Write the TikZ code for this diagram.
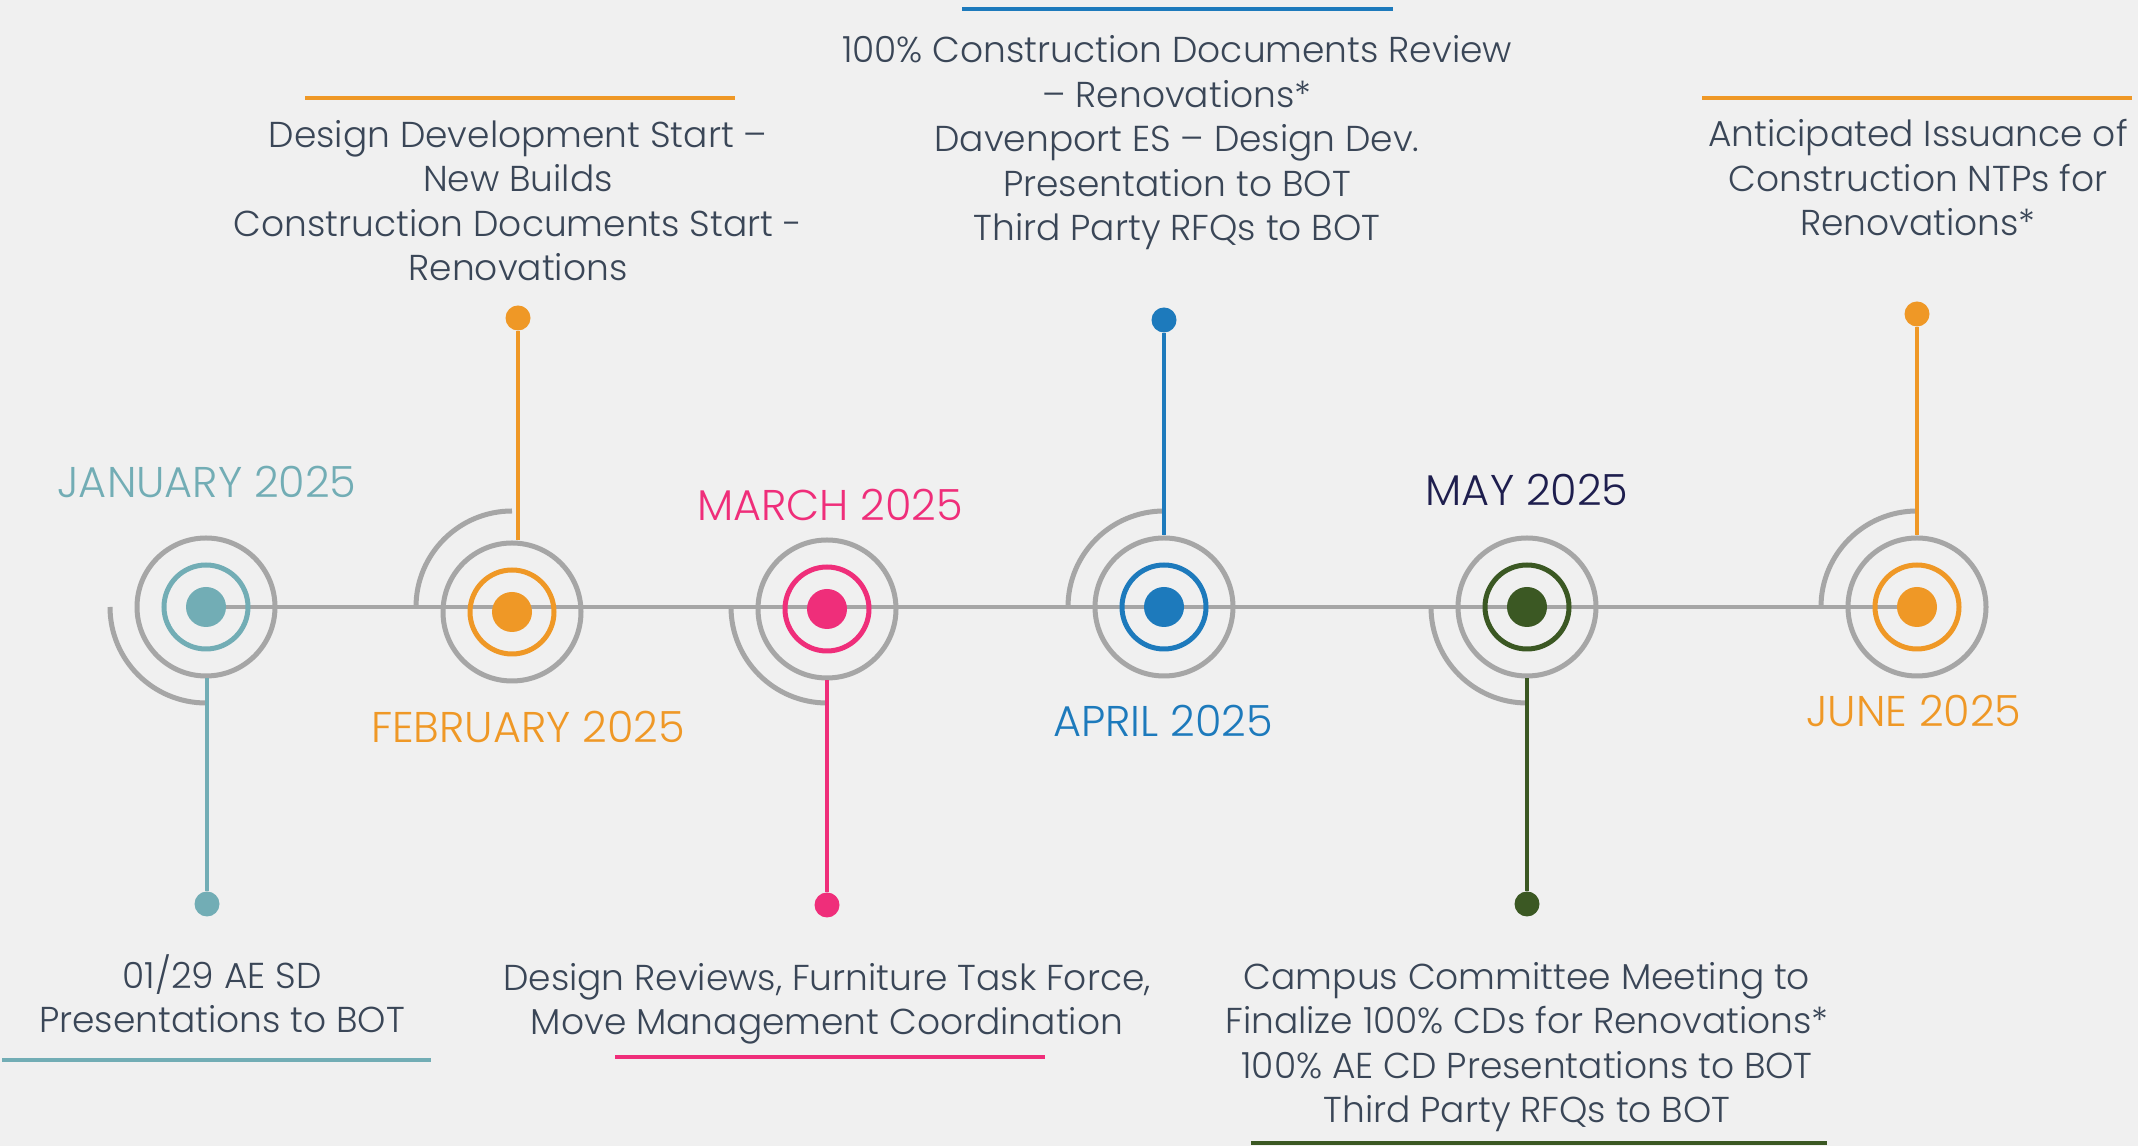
\documentclass[tikz,border=0pt]{standalone}
\usepackage{fontspec}
\IfFontExistsTF{Poppins Light}{\setmainfont{Poppins Light}}{\setmainfont{Poppins}}
\usetikzlibrary{positioning}

\definecolor{bggray}{HTML}{F0F0F0}
\definecolor{ringgray}{HTML}{A6A6A6}
\definecolor{textslate}{HTML}{3A4657}
\definecolor{janteal}{HTML}{72ADB5}
\definecolor{feborange}{HTML}{EF9826}
\definecolor{marpink}{HTML}{EF2E7A}
\definecolor{aprblue}{HTML}{1D7ABC}
\definecolor{maygreen}{HTML}{3B5823}
\definecolor{maynavy}{HTML}{1E1E4E}

\begin{document}
\begin{tikzpicture}[x=0.5pt, y=0.5pt,
    ring/.style = {draw=ringgray, line width=2.5pt, circle, minimum size=69pt, inner sep=0pt},
    mid/.style = {draw, line width=2.5pt, circle, minimum size=42pt, inner sep=0pt},
    core/.style = {fill, circle, minimum size=20pt, inner sep=0pt},
    pin/.style = {fill, circle, minimum size=12.5pt, inner sep=0pt},
    swirl/.style = {draw=ringgray, line width=2.5pt},
    stem/.style = {line width=1.8pt},
    bar/.style = {line width=2pt},
    month/.style = {font=\fontsize{21.5}{24}\selectfont, anchor=base, inner sep=0pt},
    note/.style = {font=\fontsize{18}{22.3}\selectfont, text=textslate, align=center, anchor=base, inner sep=0pt}]

    \path[use as bounding box, fill=bggray] (0,0) rectangle (2138,1146);

    % milestone centres
    \coordinate (jan) at (206,539);
    \coordinate (feb) at (512,534);
    \coordinate (mar) at (827,537);
    \coordinate (apr) at (1164,539);
    \coordinate (may) at (1527,539);
    \coordinate (jun) at (1917,539);

    % timeline
    \draw[ringgray, line width=2pt] (jan) -- (jun);

    % swirls
    \draw[swirl] ([xshift=-48pt]jan) arc[start angle=180, end angle=270, radius=96];
    \draw[swirl] ([xshift=-48pt, yshift=2.5pt]feb) arc[start angle=180, end angle=90, radius=96];
    \draw[swirl] ([xshift=-48pt, yshift=1pt]mar) arc[start angle=180, end angle=270, radius=96];
    \draw[swirl] ([xshift=-48pt]apr) arc[start angle=180, end angle=90, radius=96];
    \draw[swirl] ([xshift=-48pt]may) arc[start angle=180, end angle=270, radius=96];
    \draw[swirl] ([xshift=-48pt]jun) arc[start angle=180, end angle=90, radius=96];

    % rings
    \node[ring] (janring) at (jan) {};
    \node[mid, janteal] (janmid) at (jan) {};
    \node[core, janteal] (jancore) at (jan) {};
    \node[ring] (febring) at (feb) {};
    \node[mid, feborange] (febmid) at (feb) {};
    \node[core, feborange] (febcore) at (feb) {};
    \node[ring] (marring) at (mar) {};
    \node[mid, marpink] (marmid) at (mar) {};
    \node[core, marpink] (marcore) at (mar) {};
    \node[ring] (aprring) at (apr) {};
    \node[mid, aprblue] (aprmid) at (apr) {};
    \node[core, aprblue] (aprcore) at (apr) {};
    \node[ring] (mayring) at (may) {};
    \node[mid, maygreen] (maymid) at (may) {};
    \node[core, maygreen] (maycore) at (may) {};
    \node[ring] (junring) at (jun) {};
    \node[mid, feborange] (junmid) at (jun) {};
    \node[core, feborange] (juncore) at (jun) {};

    % pins and stems
    \node[pin, janteal] (janpin) at (207,242) {};
    \node[pin, feborange] (febpin) at (518,828) {};
    \node[pin, marpink] (marpin) at (827,241) {};
    \node[pin, aprblue] (aprpin) at (1164,826) {};
    \node[pin, maygreen] (maypin) at (1527,242) {};
    \node[pin, feborange] (junpin) at (1917,832) {};
    \draw[stem, janteal] (janpin) -- (janpin |- janring.south);
    \draw[stem, feborange] (febpin) -- (febpin |- febring.north);
    \draw[stem, marpink] (marpin) -- (marpin |- marring.south);
    \draw[stem, aprblue] (aprpin) -- (aprpin |- aprring.north);
    \draw[stem, maygreen] (maypin) -- (maypin |- mayring.south);
    \draw[stem, feborange] (junpin) -- (junpin |- junring.north);

    % month labels
    \node[month, janteal] (janlabel) at (207,648) {JANUARY 2025};
    \node[month, feborange] (feblabel) at (528,403) {FEBRUARY 2025};
    \node[month, marpink] (marlabel) at (830,625) {MARCH 2025};
    \node[month, aprblue] (aprlabel) at (1163,409) {APRIL 2025};
    \node[month, maynavy] (maylabel) at (1527,640) {MAY 2025};
    \node[month, feborange] (junlabel) at (1914,419) {JUNE 2025};

    % notes (placed at the baseline of their last line)
    \node[note] (jannote) at (222,113) {01/29 AE SD\\Presentations to BOT};
    \node[note] (febnote) at (518,865) {Design Development Start --\\New Builds\\Construction Documents Start -\\Renovations};
    \node[note] (marnote) at (827,111) {Design Reviews, Furniture Task Force,\\Move Management Coordination};
    \node[note] (aprnote) at (1177,905) {100\% Construction Documents Review\\-- Renovations*\\Davenport ES -- Design Dev.\\Presentation to BOT\\Third Party RFQs to BOT};
    \node[note] (maynote) at (1527,23) {Campus Committee Meeting to\\Finalize 100\% CDs for Renovations*\\100\% AE CD Presentations to BOT\\Third Party RFQs to BOT};
    \node[note] (junnote) at (1918,910) {Anticipated Issuance of\\Construction NTPs for\\Renovations*};

    % bars
    \draw[bar, janteal] (2,86) -- (431,86);
    \draw[bar, feborange] (305,1048) -- (735,1048);
    \draw[bar, marpink] (615,89) -- (1045,89);
    \draw[bar, aprblue] (962,1137) -- (1393,1137);
    \draw[bar, maygreen] (1251,3) -- (1827,3);
    \draw[bar, feborange] (1702,1048) -- (2132,1048);
\end{tikzpicture}
\end{document}
